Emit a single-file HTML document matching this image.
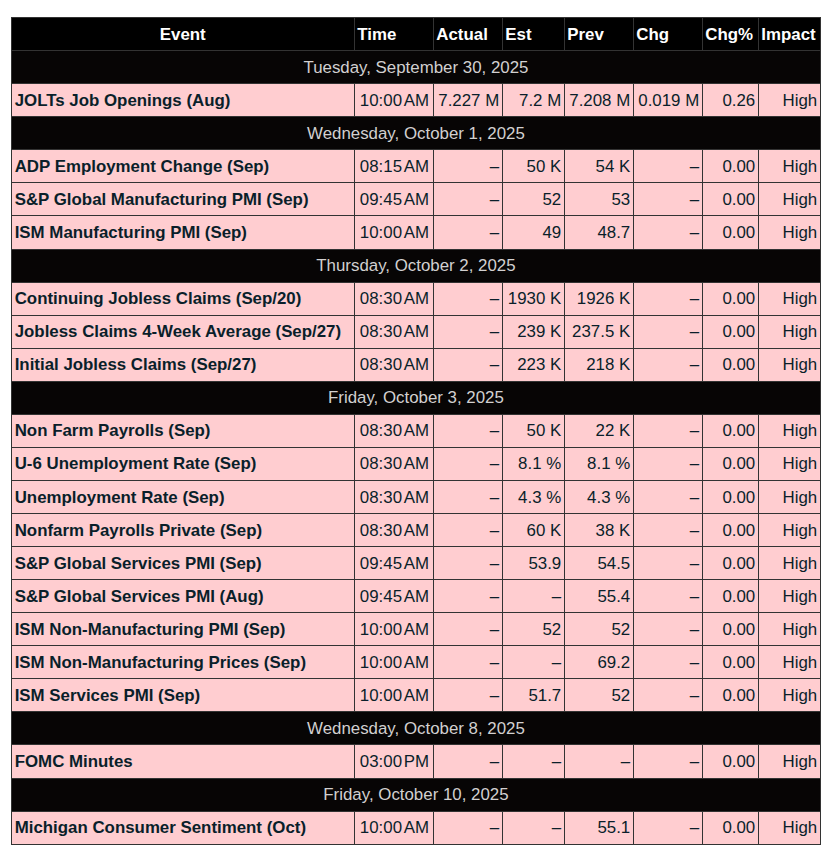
<!DOCTYPE html>
<html><head><meta charset="utf-8"><style>
html,body{margin:0;padding:0;background:#fff;width:826px;height:845px;overflow:hidden;position:relative}
body{font-family:"Liberation Sans",sans-serif;font-size:16.88px;line-height:19px}
.tb{position:absolute;left:11px;top:17px;width:810px;height:828px;background:#333}
.c{position:absolute;overflow:hidden;white-space:nowrap;display:flex;align-items:flex-start;box-sizing:border-box;padding:7.3px 2.8px 0 2.7px}
.h{background:#000;color:#fff;font-weight:bold;padding-left:2.3px}
.d{background:#070505;color:#d2d0d0;justify-content:center}
.p{background:#ffcdd0;color:#0a1f2a}
.b{font-weight:bold}
.r{justify-content:flex-end}
.ct{justify-content:center}
.t{padding-right:3.9px}
i{display:inline-block;width:1.8px}
</style></head><body>
<div class="tb"></div>
<div class="c h ct" style="left:12px;top:18px;width:342px;height:32px;padding-top:7.3px">Event</div>
<div class="c h" style="left:355px;top:18px;width:78px;height:32px;padding-top:7.3px">Time</div>
<div class="c h" style="left:434px;top:18px;width:68px;height:32px;padding-top:7.3px">Actual</div>
<div class="c h" style="left:503px;top:18px;width:61px;height:32px;padding-top:7.3px">Est</div>
<div class="c h" style="left:565px;top:18px;width:68px;height:32px;padding-top:7.3px">Prev</div>
<div class="c h" style="left:634px;top:18px;width:68px;height:32px;padding-top:7.3px">Chg</div>
<div class="c h" style="left:703px;top:18px;width:55px;height:32px;padding-top:7.3px">Chg%</div>
<div class="c h" style="left:759px;top:18px;width:61px;height:32px;padding-top:7.3px">Impact</div>
<div class="c d" style="left:12px;top:51px;width:808px;height:32px;padding-top:7.3px">Tuesday, September 30, 2025</div>
<div class="c p b" style="left:12px;top:84px;width:342px;height:32px;padding-top:7.3px">JOLTs Job Openings (Aug)</div>
<div class="c p r t" style="left:355px;top:84px;width:78px;height:32px;padding-top:7.3px">10:00<i></i>AM</div>
<div class="c p r" style="left:434px;top:84px;width:68px;height:32px;padding-top:7.3px">7.227 M</div>
<div class="c p r" style="left:503px;top:84px;width:61px;height:32px;padding-top:7.3px">7.2 M</div>
<div class="c p r" style="left:565px;top:84px;width:68px;height:32px;padding-top:7.3px">7.208 M</div>
<div class="c p r" style="left:634px;top:84px;width:68px;height:32px;padding-top:7.3px">0.019 M</div>
<div class="c p r" style="left:703px;top:84px;width:55px;height:32px;padding-top:7.3px">0.26</div>
<div class="c p r" style="left:759px;top:84px;width:61px;height:32px;padding-top:7.3px">High</div>
<div class="c d" style="left:12px;top:117px;width:808px;height:32px;padding-top:7.3px">Wednesday, October 1, 2025</div>
<div class="c p b" style="left:12px;top:150px;width:342px;height:32px;padding-top:7.3px">ADP Employment Change (Sep)</div>
<div class="c p r t" style="left:355px;top:150px;width:78px;height:32px;padding-top:7.3px">08:15<i></i>AM</div>
<div class="c p r" style="left:434px;top:150px;width:68px;height:32px;padding-top:7.3px">–</div>
<div class="c p r" style="left:503px;top:150px;width:61px;height:32px;padding-top:7.3px">50 K</div>
<div class="c p r" style="left:565px;top:150px;width:68px;height:32px;padding-top:7.3px">54 K</div>
<div class="c p r" style="left:634px;top:150px;width:68px;height:32px;padding-top:7.3px">–</div>
<div class="c p r" style="left:703px;top:150px;width:55px;height:32px;padding-top:7.3px">0.00</div>
<div class="c p r" style="left:759px;top:150px;width:61px;height:32px;padding-top:7.3px">High</div>
<div class="c p b" style="left:12px;top:183px;width:342px;height:32px;padding-top:7.3px">S&amp;P Global Manufacturing PMI (Sep)</div>
<div class="c p r t" style="left:355px;top:183px;width:78px;height:32px;padding-top:7.3px">09:45<i></i>AM</div>
<div class="c p r" style="left:434px;top:183px;width:68px;height:32px;padding-top:7.3px">–</div>
<div class="c p r" style="left:503px;top:183px;width:61px;height:32px;padding-top:7.3px">52</div>
<div class="c p r" style="left:565px;top:183px;width:68px;height:32px;padding-top:7.3px">53</div>
<div class="c p r" style="left:634px;top:183px;width:68px;height:32px;padding-top:7.3px">–</div>
<div class="c p r" style="left:703px;top:183px;width:55px;height:32px;padding-top:7.3px">0.00</div>
<div class="c p r" style="left:759px;top:183px;width:61px;height:32px;padding-top:7.3px">High</div>
<div class="c p b" style="left:12px;top:216px;width:342px;height:33px;padding-top:7.3px">ISM Manufacturing PMI (Sep)</div>
<div class="c p r t" style="left:355px;top:216px;width:78px;height:33px;padding-top:7.3px">10:00<i></i>AM</div>
<div class="c p r" style="left:434px;top:216px;width:68px;height:33px;padding-top:7.3px">–</div>
<div class="c p r" style="left:503px;top:216px;width:61px;height:33px;padding-top:7.3px">49</div>
<div class="c p r" style="left:565px;top:216px;width:68px;height:33px;padding-top:7.3px">48.7</div>
<div class="c p r" style="left:634px;top:216px;width:68px;height:33px;padding-top:7.3px">–</div>
<div class="c p r" style="left:703px;top:216px;width:55px;height:33px;padding-top:7.3px">0.00</div>
<div class="c p r" style="left:759px;top:216px;width:61px;height:33px;padding-top:7.3px">High</div>
<div class="c d" style="left:12px;top:250px;width:808px;height:32px;padding-top:6.3px">Thursday, October 2, 2025</div>
<div class="c p b" style="left:12px;top:283px;width:342px;height:32px;padding-top:6.3px">Continuing Jobless Claims (Sep/20)</div>
<div class="c p r t" style="left:355px;top:283px;width:78px;height:32px;padding-top:6.3px">08:30<i></i>AM</div>
<div class="c p r" style="left:434px;top:283px;width:68px;height:32px;padding-top:6.3px">–</div>
<div class="c p r" style="left:503px;top:283px;width:61px;height:32px;padding-top:6.3px">1930 K</div>
<div class="c p r" style="left:565px;top:283px;width:68px;height:32px;padding-top:6.3px">1926 K</div>
<div class="c p r" style="left:634px;top:283px;width:68px;height:32px;padding-top:6.3px">–</div>
<div class="c p r" style="left:703px;top:283px;width:55px;height:32px;padding-top:6.3px">0.00</div>
<div class="c p r" style="left:759px;top:283px;width:61px;height:32px;padding-top:6.3px">High</div>
<div class="c p b" style="left:12px;top:316px;width:342px;height:32px;padding-top:6.3px">Jobless Claims 4-Week Average (Sep/27)</div>
<div class="c p r t" style="left:355px;top:316px;width:78px;height:32px;padding-top:6.3px">08:30<i></i>AM</div>
<div class="c p r" style="left:434px;top:316px;width:68px;height:32px;padding-top:6.3px">–</div>
<div class="c p r" style="left:503px;top:316px;width:61px;height:32px;padding-top:6.3px">239 K</div>
<div class="c p r" style="left:565px;top:316px;width:68px;height:32px;padding-top:6.3px">237.5 K</div>
<div class="c p r" style="left:634px;top:316px;width:68px;height:32px;padding-top:6.3px">–</div>
<div class="c p r" style="left:703px;top:316px;width:55px;height:32px;padding-top:6.3px">0.00</div>
<div class="c p r" style="left:759px;top:316px;width:61px;height:32px;padding-top:6.3px">High</div>
<div class="c p b" style="left:12px;top:349px;width:342px;height:32px;padding-top:6.3px">Initial Jobless Claims (Sep/27)</div>
<div class="c p r t" style="left:355px;top:349px;width:78px;height:32px;padding-top:6.3px">08:30<i></i>AM</div>
<div class="c p r" style="left:434px;top:349px;width:68px;height:32px;padding-top:6.3px">–</div>
<div class="c p r" style="left:503px;top:349px;width:61px;height:32px;padding-top:6.3px">223 K</div>
<div class="c p r" style="left:565px;top:349px;width:68px;height:32px;padding-top:6.3px">218 K</div>
<div class="c p r" style="left:634px;top:349px;width:68px;height:32px;padding-top:6.3px">–</div>
<div class="c p r" style="left:703px;top:349px;width:55px;height:32px;padding-top:6.3px">0.00</div>
<div class="c p r" style="left:759px;top:349px;width:61px;height:32px;padding-top:6.3px">High</div>
<div class="c d" style="left:12px;top:382px;width:808px;height:32px;padding-top:6.3px">Friday, October 3, 2025</div>
<div class="c p b" style="left:12px;top:415px;width:342px;height:32px;padding-top:6.3px">Non Farm Payrolls (Sep)</div>
<div class="c p r t" style="left:355px;top:415px;width:78px;height:32px;padding-top:6.3px">08:30<i></i>AM</div>
<div class="c p r" style="left:434px;top:415px;width:68px;height:32px;padding-top:6.3px">–</div>
<div class="c p r" style="left:503px;top:415px;width:61px;height:32px;padding-top:6.3px">50 K</div>
<div class="c p r" style="left:565px;top:415px;width:68px;height:32px;padding-top:6.3px">22 K</div>
<div class="c p r" style="left:634px;top:415px;width:68px;height:32px;padding-top:6.3px">–</div>
<div class="c p r" style="left:703px;top:415px;width:55px;height:32px;padding-top:6.3px">0.00</div>
<div class="c p r" style="left:759px;top:415px;width:61px;height:32px;padding-top:6.3px">High</div>
<div class="c p b" style="left:12px;top:448px;width:342px;height:32px;padding-top:6.3px">U-6 Unemployment Rate (Sep)</div>
<div class="c p r t" style="left:355px;top:448px;width:78px;height:32px;padding-top:6.3px">08:30<i></i>AM</div>
<div class="c p r" style="left:434px;top:448px;width:68px;height:32px;padding-top:6.3px">–</div>
<div class="c p r" style="left:503px;top:448px;width:61px;height:32px;padding-top:6.3px">8.1 %</div>
<div class="c p r" style="left:565px;top:448px;width:68px;height:32px;padding-top:6.3px">8.1 %</div>
<div class="c p r" style="left:634px;top:448px;width:68px;height:32px;padding-top:6.3px">–</div>
<div class="c p r" style="left:703px;top:448px;width:55px;height:32px;padding-top:6.3px">0.00</div>
<div class="c p r" style="left:759px;top:448px;width:61px;height:32px;padding-top:6.3px">High</div>
<div class="c p b" style="left:12px;top:481px;width:342px;height:32px;padding-top:7.3px">Unemployment Rate (Sep)</div>
<div class="c p r t" style="left:355px;top:481px;width:78px;height:32px;padding-top:7.3px">08:30<i></i>AM</div>
<div class="c p r" style="left:434px;top:481px;width:68px;height:32px;padding-top:7.3px">–</div>
<div class="c p r" style="left:503px;top:481px;width:61px;height:32px;padding-top:7.3px">4.3 %</div>
<div class="c p r" style="left:565px;top:481px;width:68px;height:32px;padding-top:7.3px">4.3 %</div>
<div class="c p r" style="left:634px;top:481px;width:68px;height:32px;padding-top:7.3px">–</div>
<div class="c p r" style="left:703px;top:481px;width:55px;height:32px;padding-top:7.3px">0.00</div>
<div class="c p r" style="left:759px;top:481px;width:61px;height:32px;padding-top:7.3px">High</div>
<div class="c p b" style="left:12px;top:514px;width:342px;height:32px;padding-top:7.3px">Nonfarm Payrolls Private (Sep)</div>
<div class="c p r t" style="left:355px;top:514px;width:78px;height:32px;padding-top:7.3px">08:30<i></i>AM</div>
<div class="c p r" style="left:434px;top:514px;width:68px;height:32px;padding-top:7.3px">–</div>
<div class="c p r" style="left:503px;top:514px;width:61px;height:32px;padding-top:7.3px">60 K</div>
<div class="c p r" style="left:565px;top:514px;width:68px;height:32px;padding-top:7.3px">38 K</div>
<div class="c p r" style="left:634px;top:514px;width:68px;height:32px;padding-top:7.3px">–</div>
<div class="c p r" style="left:703px;top:514px;width:55px;height:32px;padding-top:7.3px">0.00</div>
<div class="c p r" style="left:759px;top:514px;width:61px;height:32px;padding-top:7.3px">High</div>
<div class="c p b" style="left:12px;top:547px;width:342px;height:32px;padding-top:7.3px">S&amp;P Global Services PMI (Sep)</div>
<div class="c p r t" style="left:355px;top:547px;width:78px;height:32px;padding-top:7.3px">09:45<i></i>AM</div>
<div class="c p r" style="left:434px;top:547px;width:68px;height:32px;padding-top:7.3px">–</div>
<div class="c p r" style="left:503px;top:547px;width:61px;height:32px;padding-top:7.3px">53.9</div>
<div class="c p r" style="left:565px;top:547px;width:68px;height:32px;padding-top:7.3px">54.5</div>
<div class="c p r" style="left:634px;top:547px;width:68px;height:32px;padding-top:7.3px">–</div>
<div class="c p r" style="left:703px;top:547px;width:55px;height:32px;padding-top:7.3px">0.00</div>
<div class="c p r" style="left:759px;top:547px;width:61px;height:32px;padding-top:7.3px">High</div>
<div class="c p b" style="left:12px;top:580px;width:342px;height:32px;padding-top:7.3px">S&amp;P Global Services PMI (Aug)</div>
<div class="c p r t" style="left:355px;top:580px;width:78px;height:32px;padding-top:7.3px">09:45<i></i>AM</div>
<div class="c p r" style="left:434px;top:580px;width:68px;height:32px;padding-top:7.3px">–</div>
<div class="c p r" style="left:503px;top:580px;width:61px;height:32px;padding-top:7.3px">–</div>
<div class="c p r" style="left:565px;top:580px;width:68px;height:32px;padding-top:7.3px">55.4</div>
<div class="c p r" style="left:634px;top:580px;width:68px;height:32px;padding-top:7.3px">–</div>
<div class="c p r" style="left:703px;top:580px;width:55px;height:32px;padding-top:7.3px">0.00</div>
<div class="c p r" style="left:759px;top:580px;width:61px;height:32px;padding-top:7.3px">High</div>
<div class="c p b" style="left:12px;top:613px;width:342px;height:32px;padding-top:7.3px">ISM Non-Manufacturing PMI (Sep)</div>
<div class="c p r t" style="left:355px;top:613px;width:78px;height:32px;padding-top:7.3px">10:00<i></i>AM</div>
<div class="c p r" style="left:434px;top:613px;width:68px;height:32px;padding-top:7.3px">–</div>
<div class="c p r" style="left:503px;top:613px;width:61px;height:32px;padding-top:7.3px">52</div>
<div class="c p r" style="left:565px;top:613px;width:68px;height:32px;padding-top:7.3px">52</div>
<div class="c p r" style="left:634px;top:613px;width:68px;height:32px;padding-top:7.3px">–</div>
<div class="c p r" style="left:703px;top:613px;width:55px;height:32px;padding-top:7.3px">0.00</div>
<div class="c p r" style="left:759px;top:613px;width:61px;height:32px;padding-top:7.3px">High</div>
<div class="c p b" style="left:12px;top:646px;width:342px;height:32px;padding-top:7.3px">ISM Non-Manufacturing Prices (Sep)</div>
<div class="c p r t" style="left:355px;top:646px;width:78px;height:32px;padding-top:7.3px">10:00<i></i>AM</div>
<div class="c p r" style="left:434px;top:646px;width:68px;height:32px;padding-top:7.3px">–</div>
<div class="c p r" style="left:503px;top:646px;width:61px;height:32px;padding-top:7.3px">–</div>
<div class="c p r" style="left:565px;top:646px;width:68px;height:32px;padding-top:7.3px">69.2</div>
<div class="c p r" style="left:634px;top:646px;width:68px;height:32px;padding-top:7.3px">–</div>
<div class="c p r" style="left:703px;top:646px;width:55px;height:32px;padding-top:7.3px">0.00</div>
<div class="c p r" style="left:759px;top:646px;width:61px;height:32px;padding-top:7.3px">High</div>
<div class="c p b" style="left:12px;top:679px;width:342px;height:32px;padding-top:7.3px">ISM Services PMI (Sep)</div>
<div class="c p r t" style="left:355px;top:679px;width:78px;height:32px;padding-top:7.3px">10:00<i></i>AM</div>
<div class="c p r" style="left:434px;top:679px;width:68px;height:32px;padding-top:7.3px">–</div>
<div class="c p r" style="left:503px;top:679px;width:61px;height:32px;padding-top:7.3px">51.7</div>
<div class="c p r" style="left:565px;top:679px;width:68px;height:32px;padding-top:7.3px">52</div>
<div class="c p r" style="left:634px;top:679px;width:68px;height:32px;padding-top:7.3px">–</div>
<div class="c p r" style="left:703px;top:679px;width:55px;height:32px;padding-top:7.3px">0.00</div>
<div class="c p r" style="left:759px;top:679px;width:61px;height:32px;padding-top:7.3px">High</div>
<div class="c d" style="left:12px;top:712px;width:808px;height:32px;padding-top:7.3px">Wednesday, October 8, 2025</div>
<div class="c p b" style="left:12px;top:745px;width:342px;height:33px;padding-top:7.3px">FOMC Minutes</div>
<div class="c p r t" style="left:355px;top:745px;width:78px;height:33px;padding-top:7.3px">03:00<i></i>PM</div>
<div class="c p r" style="left:434px;top:745px;width:68px;height:33px;padding-top:7.3px">–</div>
<div class="c p r" style="left:503px;top:745px;width:61px;height:33px;padding-top:7.3px">–</div>
<div class="c p r" style="left:565px;top:745px;width:68px;height:33px;padding-top:7.3px">–</div>
<div class="c p r" style="left:634px;top:745px;width:68px;height:33px;padding-top:7.3px">–</div>
<div class="c p r" style="left:703px;top:745px;width:55px;height:33px;padding-top:7.3px">0.00</div>
<div class="c p r" style="left:759px;top:745px;width:61px;height:33px;padding-top:7.3px">High</div>
<div class="c d" style="left:12px;top:779px;width:808px;height:32px;padding-top:6.3px">Friday, October 10, 2025</div>
<div class="c p b" style="left:12px;top:812px;width:342px;height:32px;padding-top:6.3px">Michigan Consumer Sentiment (Oct)</div>
<div class="c p r t" style="left:355px;top:812px;width:78px;height:32px;padding-top:6.3px">10:00<i></i>AM</div>
<div class="c p r" style="left:434px;top:812px;width:68px;height:32px;padding-top:6.3px">–</div>
<div class="c p r" style="left:503px;top:812px;width:61px;height:32px;padding-top:6.3px">–</div>
<div class="c p r" style="left:565px;top:812px;width:68px;height:32px;padding-top:6.3px">55.1</div>
<div class="c p r" style="left:634px;top:812px;width:68px;height:32px;padding-top:6.3px">–</div>
<div class="c p r" style="left:703px;top:812px;width:55px;height:32px;padding-top:6.3px">0.00</div>
<div class="c p r" style="left:759px;top:812px;width:61px;height:32px;padding-top:6.3px">High</div>
</body></html>
